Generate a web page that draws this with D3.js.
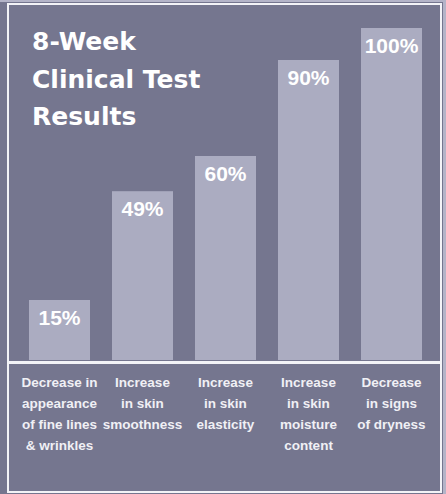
<!DOCTYPE html>
<html>
<head>
<meta charset="utf-8">
<script src="https://cdn.jsdelivr.net/npm/d3@7"></script>
<style>
  html, body { margin: 0; padding: 0; background: #75768f; }
  svg { display: block; }
</style>
</head>
<body>
<div id="chart"></div>
<script>
// data
var categories = [
  "Decrease in|appearance|of fine lines|& wrinkles",
  "Increase|in skin|smoothness",
  "Increase|in skin|elasticity",
  "Increase|in skin|moisture|content",
  "Decrease|in signs|of dryness"
];
var values = [15, 49, 60, 90, 100];
var valueLabels = ["15%", "49%", "60%", "90%", "100%"];
var titleLines = ["8-Week", "Clinical Test", "Results"];

function drawResults() {
  var width = 446,
      height = 494;
  var bg = "#75768f",
      barColor = "#abacc1",
      lineColor = "#f3f3f7";

  var svg = d3.select("#chart")
    .append("svg")
      .attr("width", width)
      .attr("height", height);

  svg.append("rect")
      .attr("width", width)
      .attr("height", height)
      .attr("fill", bg);

  // thin light edges of the original picture
  svg.append("rect")
      .attr("x", 0).attr("y", 0)
      .attr("width", width).attr("height", 2)
      .attr("fill", "#b4b4c8");
  svg.append("rect")
      .attr("x", 443).attr("y", 0)
      .attr("width", 3).attr("height", height)
      .attr("fill", "#b4b4c8");

  var plotBottom = 360;

  var x = d3.scaleBand()
      .domain(d3.range(categories.length))
      .range([18, 433])
      .paddingInner(0.265)
      .paddingOuter(0.1325);

  var y = d3.scaleLinear()
      .domain([0, 100])
      .range([348, 28]);

  var bars = svg.append("g").attr("class", "bars")
    .selectAll("g")
    .data(values)
    .enter().append("g");

  bars.append("rect")
      .attr("x", function(d, i) { return x(i); })
      .attr("y", function(d) { return y(d); })
      .attr("width", x.bandwidth())
      .attr("height", function(d) { return plotBottom - y(d); })
      .attr("fill", barColor);

  bars.append("text")
      .attr("x", function(d, i) { return x(i) + x.bandwidth() / 2; })
      .attr("y", function(d) { return y(d) + 25; })
      .attr("text-anchor", "middle")
      .attr("fill", "#ffffff")
      .style("font-family", "'Liberation Sans', Arial, sans-serif")
      .style("font-weight", "bold")
      .style("font-size", "21px")
      .text(function(d, i) { return valueLabels[i]; });

  // frame + separator
  svg.append("rect")
      .attr("x", 8).attr("y", 4)
      .attr("width", 433).attr("height", 488)
      .attr("fill", "none")
      .attr("stroke", lineColor)
      .attr("stroke-width", 2);

  svg.append("rect")
      .attr("x", 9).attr("y", 361)
      .attr("width", 432).attr("height", 3)
      .attr("fill", lineColor);

  // category labels
  var cat = svg.append("g").attr("class", "categories")
    .selectAll("text")
    .data(categories)
    .enter().append("text")
      .attr("text-anchor", "middle")
      .attr("fill", "#f0f0f5")
      .style("font-family", "'Liberation Sans', Arial, sans-serif")
      .style("font-weight", "bold")
      .style("font-size", "13.5px");

  cat.selectAll("tspan")
    .data(function(d, i) {
      return d.split("|").map(function(s) { return { text: s, i: i }; });
    })
    .enter().append("tspan")
      .attr("x", function(d) { return x(d.i) + x.bandwidth() / 2; })
      .attr("y", function(d, j) { return 387 + j * 21; })
      .text(function(d) { return d.text; });

  // title
  svg.append("text")
      .attr("fill", "#ffffff")
      .style("font-family", "'DejaVu Sans', sans-serif")
      .style("font-weight", "bold")
      .style("font-size", "25px")
    .selectAll("tspan")
    .data(titleLines)
    .enter().append("tspan")
      .attr("x", 32)
      .attr("y", function(d, i) { return 50 + i * 37.5; })
      .text(function(d) { return d; });
}

drawResults();
</script>
</body>
</html>
